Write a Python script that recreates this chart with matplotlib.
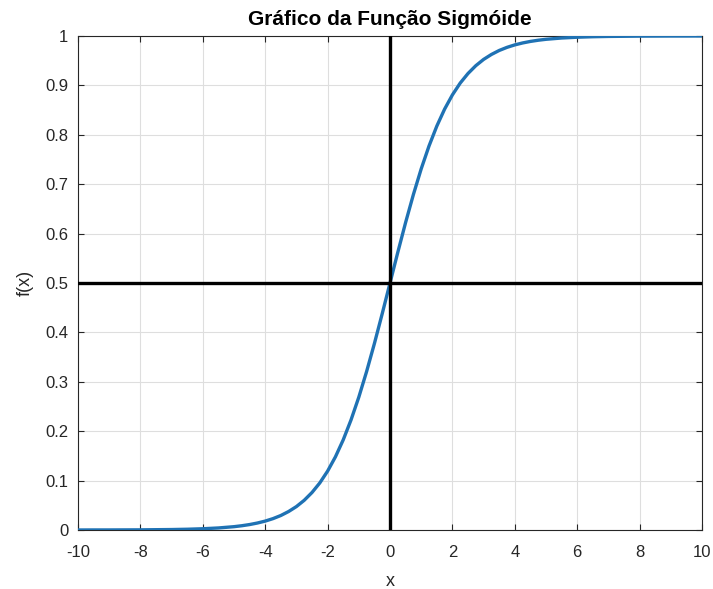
import numpy as np
import matplotlib.pyplot as plt

plt.rcParams['font.family'] = ['Liberation Sans', 'DejaVu Sans']
plt.rcParams['axes.unicode_minus'] = False

# sigmoid values (finer steps through the steep part)
x_vals = [-10, -9.5, -9, -8.5, -8, -7.5, -7, -6.5, -6, -5.5, -5, -4.75, -4.5, -4.25,
          -4, -3.75, -3.5, -3.25, -3, -2.75, -2.5, -2.25, -2, -1.75, -1.5, -1.25,
          -1, -0.75, -0.5, -0.25, 0, 0.25, 0.5, 0.75, 1, 1.25, 1.5, 1.75, 2, 2.25,
          2.5, 2.75, 3, 3.25, 3.5, 3.75, 4, 4.25, 4.5, 4.75, 5, 5.5, 6, 6.5, 7,
          7.5, 8, 8.5, 9, 9.5, 10]
f_vals = [0.0000, 0.0001, 0.0001, 0.0002, 0.0003, 0.0006, 0.0009, 0.0015, 0.0025,
          0.0041, 0.0067, 0.0086, 0.0110, 0.0141, 0.0180, 0.0230, 0.0293, 0.0374,
          0.0474, 0.0601, 0.0759, 0.0953, 0.1192, 0.1480, 0.1824, 0.2227, 0.2689,
          0.3208, 0.3775, 0.4378, 0.5000, 0.5622, 0.6225, 0.6792, 0.7311, 0.7773,
          0.8176, 0.8520, 0.8808, 0.9047, 0.9241, 0.9399, 0.9526, 0.9626, 0.9707,
          0.9770, 0.9820, 0.9859, 0.9890, 0.9914, 0.9933, 0.9959, 0.9975, 0.9985,
          0.9991, 0.9994, 0.9997, 0.9998, 0.9999, 0.9999, 1.0000]
x_ticks = list(range(-10, 11, 2))
y_ticks = [0, 0.1, 0.2, 0.3, 0.4, 0.5, 0.6, 0.7, 0.8, 0.9, 1]
y_ticklabels = ['0', '0.1', '0.2', '0.3', '0.4', '0.5', '0.6', '0.7', '0.8', '0.9', '1']

axcol = '#262626'

fig = plt.figure(figsize=(7.13, 5.89), dpi=100)
ax = fig.add_axes([0.1094, 0.1002, 0.8752, 0.8387])

ax.plot(x_vals, f_vals, color='#1f72b4', lw=2.4, solid_joinstyle='round', zorder=3)
ax.axvline(0, color='black', lw=2.4, zorder=4)
ax.axhline(0.5, color='black', lw=2.4, zorder=4)

ax.set_xlim(-10, 10)
ax.set_ylim(0, 1)
ax.set_xticks(x_ticks)
ax.set_yticks(y_ticks)
ax.set_yticklabels(y_ticklabels)
ax.grid(True, color='#dedede', lw=0.8)
ax.set_axisbelow(True)

ax.tick_params(direction='in', length=4, width=0.8, colors=axcol, labelsize=12,
               top=True, right=True)
ax.tick_params(axis='x', pad=11)
ax.tick_params(axis='y', pad=7)
for s in ax.spines.values():
    s.set_color(axcol)
    s.set_linewidth(0.8)

ax.set_title('Gráfico da Função Sigmóide', fontsize=15, fontweight='bold', color='black', pad=8)
ax.set_xlabel('x', fontsize=13, color=axcol, labelpad=9)
ax.set_ylabel('f(x)', fontsize=13, color=axcol, labelpad=8)

fig.savefig('out.png', dpi=100)
